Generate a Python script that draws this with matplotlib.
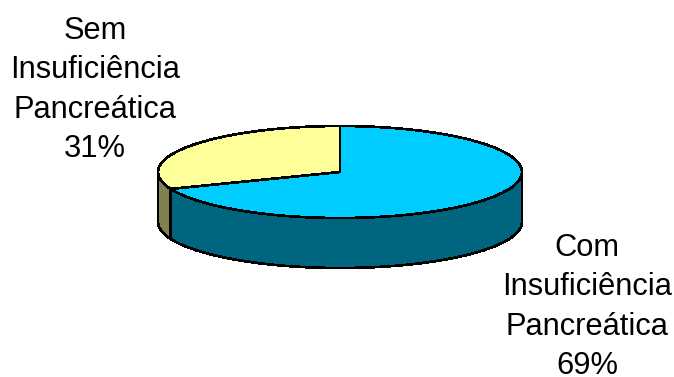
import numpy as np
from matplotlib import pyplot as plt
from matplotlib.patches import Polygon

labels = ['Com\nInsuficiência\nPancreática\n69%', 'Sem\nInsuficiência\nPancreática\n31%']
shares = [69, 31]
top_colors = ['#00CCFF', '#FFFF99']
side_colors = ['#006680', '#808050']

cx, cy, rx, ry, depth = 340, 172, 182, 46, 50


def rim(a, b):
    t = np.radians(np.linspace(a, b, 200))
    return np.column_stack([cx + rx * np.cos(t), cy - ry * np.sin(t)])


fig = plt.figure(figsize=(6.74, 3.77), dpi=100)
ax = fig.add_axes([0, 0, 1, 1])
ax.set_xlim(0, 674)
ax.set_ylim(377, 0)
ax.axis('off')

# angles run clockwise from twelve o'clock, the first share comes first
edges = 90 - 3.6 * np.cumsum([0] + shares)
slices = list(zip(edges[:-1], edges[1:], top_colors, side_colors))

# walls first, only the part of each slice on the front half of the rim
for a, b, top, side in slices:
    lo, hi = max(b, -180), min(a, 0)
    if lo < hi:
        front = rim(hi, lo)
        wall = np.vstack([front, front[::-1] + [0, depth]])
        ax.add_patch(Polygon(wall, fc=side, ec='black', lw=1.2, antialiased=False))

for a, b, top, side in slices:
    wedge = np.vstack([[cx, cy], rim(a, b)])
    ax.add_patch(Polygon(wedge, fc=top, ec='black', lw=1.2, antialiased=False))

ax.text(587, 307, labels[0], ha='center', va='center', fontsize=22.2,
        family='Liberation Sans', linespacing=1.42)
ax.text(95, 90, labels[1], ha='center', va='center', fontsize=22.2,
        family='Liberation Sans', linespacing=1.42)

fig.savefig('out.png', dpi=100)
